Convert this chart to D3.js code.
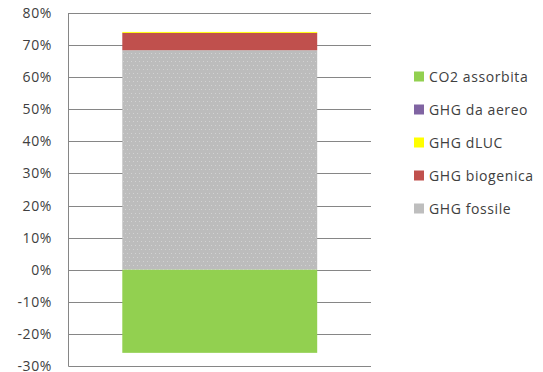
<!DOCTYPE html>
<html><head><meta charset="utf-8">
<script src="https://cdn.jsdelivr.net/npm/d3@7"></script>
<style>body{margin:0;background:#fff;}svg{display:block;}</style>
</head><body>
<svg id="c" width="543" height="372"></svg>
<script>
// Data
const categories = ["Scenario"];
const seriesNames = ["GHG fossile", "GHG biogenica", "GHG dLUC", "GHG da aereo", "CO2 assorbita"];
const seriesColors = ["#BEBEBE", "#C0504D", "#FFFF00", "#8064A2", "#92D050"];
const positiveValues = [68.4, 5.4, 0.3, 0.0];   // fossile, biogenica, dLUC, aereo
const negativeValues = [-25.9];                 // CO2 assorbita
const yTicks = [80, 70, 60, 50, 40, 30, 20, 10, 0, -10, -20, -30];
const legendOrder = ["CO2 assorbita", "GHG da aereo", "GHG dLUC", "GHG biogenica", "GHG fossile"];

(function () {
const svg = d3.select("#c");
const mLeft = 68.5, mRight = 371, mTop = 13, mBottom = 366;
const y = d3.scaleLinear().domain([-30, 80]).range([mBottom, mTop]);
const x = d3.scaleBand().domain(categories).range([mLeft, mRight]).paddingInner(0).paddingOuter(0.276);
const font = "'Open Sans', sans-serif";

// pattern for fossile
const defs = svg.append("defs");
const pat = defs.append("pattern").attr("id", "dots").attr("patternUnits", "userSpaceOnUse")
  .attr("width", 8).attr("height", 8);
pat.append("rect").attr("width", 8).attr("height", 8).attr("fill", "#BCBCBC");
[[1,1],[5,1],[3,5],[7,5]].forEach(p =>
  pat.append("rect").attr("x", p[0]).attr("y", p[1]).attr("width", 1).attr("height", 1).attr("fill", "#D2D2D2"));

// gridlines
svg.append("g").selectAll("line").data(yTicks).join("line")
  .attr("x1", mLeft).attr("x2", mRight)
  .attr("y1", d => Math.round(y(d)) + 0.5).attr("y2", d => Math.round(y(d)) + 0.5)
  .attr("stroke", "#868686").attr("stroke-width", 1);

// axis labels
svg.append("g").selectAll("text").data(yTicks).join("text")
  .attr("x", 52).attr("y", d => y(d) + 5)
  .attr("text-anchor", "end")
  .attr("font-family", font).attr("letter-spacing", 0.6)
  .attr("font-size", 14).attr("fill", "#404040")
  .text(d => d + "%");

// stacked bars
const stackData = [];
let acc = 0;
positiveValues.forEach((v, i) => { stackData.push({name: seriesNames[i], y0: acc, y1: acc + v, color: seriesColors[i]}); acc += v; });
let nacc = 0;
negativeValues.forEach((v, i) => { stackData.push({name: seriesNames[4 + i], y0: nacc + v, y1: nacc, color: seriesColors[4 + i]}); nacc += v; });

svg.append("g").selectAll("rect").data(stackData.filter(d => d.y1 - d.y0 > 0)).join("rect")
  .attr("x", x(categories[0])).attr("width", x.bandwidth())
  .attr("y", d => y(d.y1)).attr("height", d => y(d.y0) - y(d.y1))
  .attr("fill", d => d.name === "GHG fossile" ? "url(#dots)" : d.color);

// axis line
svg.append("line").attr("x1", mLeft).attr("x2", mLeft).attr("y1", mTop).attr("y2", mBottom + 0.5)
  .attr("stroke", "#868686").attr("stroke-width", 1);

// legend
const lg = svg.append("g");
legendOrder.forEach((n, i) => {
  const idx = seriesNames.indexOf(n);
  const cy = 76.5 + i * 33;
  lg.append("rect").attr("x", 414).attr("y", cy - 5).attr("width", 10).attr("height", 10)
    .attr("fill", seriesColors[idx]);
  lg.append("text").attr("x", 429).attr("y", cy + 5)
    .attr("font-family", font).attr("letter-spacing", 0.6)
    .attr("font-size", 14).attr("fill", "#404040").text(n);
});
})();
</script>
</body></html>
